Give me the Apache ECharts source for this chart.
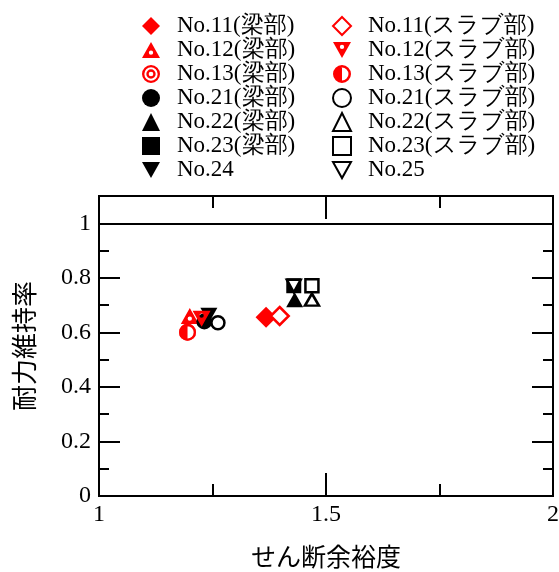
<!DOCTYPE html>
<html><head><meta charset="utf-8">
<script src="https://cdn.jsdelivr.net/npm/echarts@6/dist/echarts.min.js"></script>
<style>html,body{margin:0;padding:0;background:#fff}#c{width:559px;height:572px}</style>
</head><body><div id="c"></div>
<script>
// ---- data ----
const beam11 = [[1.368, 0.655]];
const beam12 = [[1.200, 0.660]];
const beam13 = [[1.195, 0.600]];
const beam21 = [[1.232, 0.640]];
const beam22 = [[1.431, 0.720]];
const beam23 = [[1.429, 0.771]];
const no24   = [[1.242, 0.662]];
const slab11 = [[1.398, 0.660]];
const slab12 = [[1.226, 0.650]];
const slab13 = [[1.195, 0.600]];
const slab21 = [[1.262, 0.635]];
const slab22 = [[1.469, 0.720]];
const slab23 = [[1.469, 0.771]];
const no25   = [[1.429, 0.770]];
const leftLegend = ['No.11(梁部)','No.12(梁部)','No.13(梁部)','No.21(梁部)','No.22(梁部)','No.23(梁部)','No.24'];
const rightLegend = ['No.11(スラブ部)','No.12(スラブ部)','No.13(スラブ部)','No.21(スラブ部)','No.22(スラブ部)','No.23(スラブ部)','No.25'];
const xMajorStep = 0.5, xMinorStep = 0.25;
const yMajorStep = 0.2, yMinorStep = 0.1;
const xRange = [1, 2];
const yRange = [0, 1.1];
const yLabelMax = 1;
const refLineStep = 1;   // horizontal reference line at y = 1
const xName = 'せん断余裕度';
const yName = '耐力維持率';

// ---- styles ----
const RED = '#ff0000', BLK = '#000000';
const serifFont = 'Liberation Serif';
const sansJP = 'Noto Sans CJK JP';
const triUpHole = 'path://M50,0 L100,90 L0,90 Z M50,48 A12,12 0 1,0 50,72 A12,12 0 1,0 50,48 Z';
const triDownHole = 'path://M0,0 L100,0 L50,90 Z M50,16 A12,12 0 1,0 50,40 A12,12 0 1,0 50,16 Z';
const triDown = 'path://M0,0 L100,0 L50,90 Z';
const concentric = 'path://M0,50 A50,50 0 1,1 100,50 A50,50 0 1,1 0,50 Z M13,50 A37,37 0 1,0 87,50 A37,37 0 1,0 13,50 Z M24,50 A26,26 0 1,1 76,50 A26,26 0 1,1 24,50 Z M37,50 A13,13 0 1,0 63,50 A13,13 0 1,0 37,50 Z';
const halfCircle = 'path://M0,50 A50,50 0 1,1 100,50 A50,50 0 1,1 0,50 Z M14,50 A36,36 0 1,0 86,50 A36,36 0 1,0 14,50 Z M50,100 A50,50 0 0,1 50,0 Z';

function filledS(name, data, symbol, size, color) {
  return {type:'scatter', name:name, data:data, symbol:symbol, symbolSize:size, symbolKeepAspect:true,
    itemStyle:{color:color, opacity:1}, xAxisIndex:0, yAxisIndex:0};
}
function openS(name, data, symbol, size, color) {
  return {type:'scatter', name:name, data:data, symbol:symbol, symbolSize:size, symbolKeepAspect:true,
    itemStyle:{color:'#ffffff', borderColor:color, borderWidth:2.5, opacity:1}, xAxisIndex:0, yAxisIndex:0};
}

const seriesList = [
  filledS('No.11(梁部)', beam11, 'diamond', 21, RED),
  filledS('No.12(梁部)', beam12, triUpHole, 18, RED),
  filledS('No.13(梁部)', beam13, concentric, 17, RED),
  filledS('No.21(梁部)', beam21, 'circle', 16, BLK),
  filledS('No.22(梁部)', beam22, 'triangle', [17,15], BLK),
  filledS('No.23(梁部)', beam23, 'rect', 15, BLK),
  filledS('No.24', no24, triDown, 17, BLK),
  Object.assign(filledS('bg13', slab13, 'circle', 16, '#ffffff'), {silent:true}),
  openS('No.11(スラブ部)', slab11, 'diamond', 18, RED),
  filledS('No.12(スラブ部)', slab12, triDownHole, 18, RED),
  filledS('No.13(スラブ部)', slab13, halfCircle, 17, RED),
  openS('No.21(スラブ部)', slab21, 'circle', 13, BLK),
  openS('No.22(スラブ部)', slab22, 'triangle', [14,12], BLK),
  openS('No.23(スラブ部)', slab23, 'rect', 13, BLK),
  openS('No.25', no25, triDown, 14, BLK)
];

const axLine = {color:BLK, width:2};
function xAx(pos, step, len, labels) {
  return {type:'value', position:pos, min:xRange[0], max:xRange[1], interval:step,
    axisLine:{show:true, onZero:false, lineStyle:axLine},
    axisTick:{show:true, inside:true, length:len, lineStyle:{color:BLK, width:2}},
    axisLabel:labels ? {show:true, color:BLK, fontFamily:serifFont, fontSize:24, margin:7} : {show:false},
    splitLine:{show:false}};
}
function yAx(pos, step, len, labels) {
  return {type:'value', position:pos, min:yRange[0], max:yRange[1], interval:step,
    axisLine:{show:true, onZero:false, lineStyle:axLine},
    axisTick:{show:true, inside:true, length:len, lineStyle:{color:BLK, width:2}},
    axisLabel:labels ? {show:true, color:BLK, fontFamily:serifFont, fontSize:24, margin:8,
      formatter:function(v){ return v > yLabelMax + 1e-9 ? '' : String(+v.toFixed(2)); }} : {show:false},
    splitLine:{show:false}};
}
const xAxes = [xAx('bottom', xMajorStep, 23, true), xAx('bottom', xMinorStep, 12, false),
               xAx('top', xMajorStep, 23, false), xAx('top', xMinorStep, 12, false)];
const yAxes = [yAx('left', yMajorStep, 21, true), yAx('left', yMinorStep, 10, false),
               yAx('right', yMajorStep, 21, false), yAx('right', yMinorStep, 10, false)];
yAxes.push({type:'value', position:'left', min:yRange[0], max:yRange[1], interval:refLineStep,
  axisLine:{show:false}, axisTick:{show:false}, axisLabel:{show:false},
  splitLine:{show:true, lineStyle:{color:BLK, width:2, type:'solid'}}});

function mkLegend(left, data) {
  return {show:true, orient:'vertical', left:left, top:9, itemWidth:18, itemHeight:18, itemGap:0,
    selectedMode:false, data:data,
    textStyle:{color:BLK, fontFamily:serifFont, fontSize:23, lineHeight:24, padding:[0,0,0,12]}};
}

const chart = echarts.init(document.getElementById('c'));
chart.setOption({
  animation:false,
  grid:{left:99, right:6, top:196, bottom:76, containLabel:false, outerBoundsMode:'none'},
  legend:[mkLegend(137, leftLegend), mkLegend(327, rightLegend)],
  xAxis:xAxes,
  yAxis:yAxes,
  graphic:[
    {type:'text', x:326, y:556, style:{text:xName, fill:BLK, fontFamily:sansJP, fontSize:25, align:'center', verticalAlign:'middle'}},
    {type:'text', x:24, y:346, rotation:Math.PI/2, style:{text:yName, fill:BLK, fontFamily:sansJP, fontSize:26, align:'center', verticalAlign:'middle'}}
  ],
  series:seriesList
});
</script></body></html>
